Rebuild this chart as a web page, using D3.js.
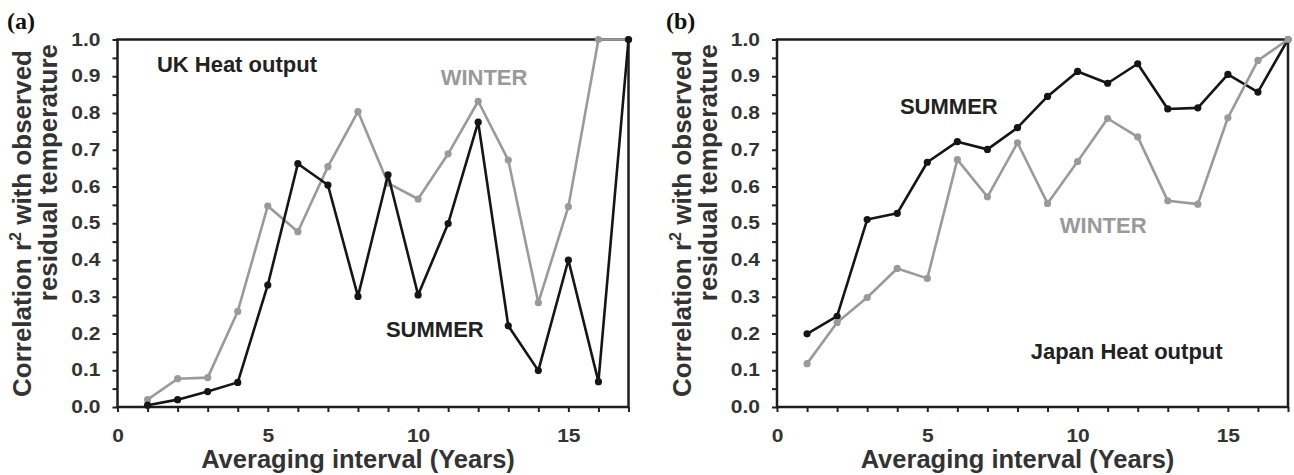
<!DOCTYPE html>
<html>
<head>
<meta charset="utf-8">
<script src="https://cdn.jsdelivr.net/npm/d3@7"></script>
<style>
  html, body { margin: 0; padding: 0; background: #fff; }
  svg { display: block; }
  text { font-family: "Liberation Sans", Arial, Helvetica, sans-serif; }
</style>
</head>
<body>
<svg id="chart" width="1294" height="475"></svg>
<script>
// ---- data ----
const intervals = [1,2,3,4,5,6,7,8,9,10,11,12,13,14,15,16,17];

const ukWinter = [0.02,0.077,0.08,0.26,0.547,0.477,0.654,0.804,0.609,0.566,0.689,0.832,0.672,0.284,0.545,1.0,1.0];
const ukSummer = [0.005,0.02,0.042,0.067,0.332,0.662,0.604,0.301,0.632,0.305,0.499,0.775,0.221,0.099,0.4,0.069,1.0];

const jpSummer = [0.199,0.247,0.51,0.527,0.666,0.722,0.701,0.76,0.845,0.913,0.881,0.934,0.811,0.814,0.905,0.857,1.0];
const jpWinter = [0.118,0.23,0.298,0.377,0.35,0.673,0.572,0.719,0.554,0.668,0.785,0.735,0.561,0.552,0.787,0.943,1.0];

const xTickValues = d3.range(0, 18);
const xTickLabels = [0, 5, 10, 15];
const yTickValues = d3.range(0, 21).map(i => i / 20);
const yTickLabels = ["0.0","0.1","0.2","0.3","0.4","0.5","0.6","0.7","0.8","0.9","1.0"];

const panelLabels = ["(a)", "(b)"];
const yTitleLines = ["Correlation r", "2", " with observed", "residual temperature"];
const xTitle = "Averaging interval (Years)";

const panels = [
  {
    label: "(a)", x0: 117.5, x1: 628.5, labelX: 7,
    series: [
      { name: "WINTER", values: ukWinter, color: "#9a9a9a" },
      { name: "SUMMER", values: ukSummer, color: "#151515" }
    ],
    notes: [
      { text: "UK Heat output", x: 1.31, y: 0.912, color: "#222" },
      { text: "WINTER", x: 10.75, y: 0.876, color: "#999" },
      { text: "SUMMER", x: 8.93, y: 0.19, color: "#222" }
    ]
  },
  {
    label: "(b)", x0: 777, x1: 1288, labelX: 666,
    series: [
      { name: "SUMMER", values: jpSummer, color: "#151515" },
      { name: "WINTER", values: jpWinter, color: "#9a9a9a" }
    ],
    notes: [
      { text: "SUMMER", x: 4.09, y: 0.797, color: "#222" },
      { text: "WINTER", x: 9.41, y: 0.474, color: "#999" },
      { text: "Japan Heat output", x: 8.44, y: 0.13, color: "#222" }
    ]
  }
];

const svg = d3.select("#chart");
const yTop = 39.5, yBottom = 407;

panels.forEach(p => {
  const x = d3.scaleLinear().domain([0, 17]).range([p.x0, p.x1]);
  const y = d3.scaleLinear().domain([0, 1]).range([yBottom, yTop]);
  const g = svg.append("g");

  // y axis
  const yAxis = d3.axisLeft(y)
    .tickValues(yTickValues)
    .tickSize(5)
    .tickPadding(12)
    .tickFormat(d => {
      const i = Math.round(d * 10);
      return Math.abs(d * 10 - i) < 1e-6 ? yTickLabels[i] : "";
    });
  const ya = g.append("g").attr("transform", `translate(${p.x0},0)`).call(yAxis);
  ya.select(".domain").remove();
  ya.selectAll(".tick line").attr("stroke", "#222").attr("stroke-width", 2);
  ya.selectAll(".tick text")
    .attr("fill", "#333")
    .style("font-size", "17.5px").style("font-weight", "bold")
    .style("transform-box", "fill-box").style("transform-origin", "right center")
    .style("transform", "scaleX(1.2)");

  // x axis
  const xAxis = d3.axisBottom(x)
    .tickValues(xTickValues)
    .tickSize(5)
    .tickPadding(18)
    .tickFormat(d => xTickLabels.includes(d) ? String(d) : "");
  const xa = g.append("g").attr("transform", `translate(0,${yBottom})`).call(xAxis);
  xa.select(".domain").remove();
  xa.selectAll(".tick line").attr("stroke", "#222").attr("stroke-width", 2);
  xa.selectAll(".tick text")
    .attr("fill", "#333")
    .style("font-size", "17.5px").style("font-weight", "bold")
    .style("transform-box", "fill-box").style("transform-origin", "center")
    .style("transform", "scaleX(1.2)");

  // frame
  g.append("rect")
    .attr("x", p.x0).attr("y", yTop)
    .attr("width", p.x1 - p.x0).attr("height", yBottom - yTop)
    .attr("fill", "none").attr("stroke", "#1e1e1e").attr("stroke-width", 2.5);

  // series
  const line = d3.line().x((d, i) => x(intervals[i])).y(d => y(d));
  p.series.forEach(s => {
    g.append("path").datum(s.values)
      .attr("d", line).attr("fill", "none")
      .attr("stroke", s.color).attr("stroke-width", 2.6)
      .attr("stroke-linejoin", "round");
    g.selectAll(null).data(s.values).enter().append("circle")
      .attr("cx", (d, i) => x(intervals[i])).attr("cy", d => y(d))
      .attr("r", 3.6).attr("fill", s.color);
  });

  // annotations
  p.notes.forEach(n => {
    g.append("text").attr("x", x(n.x)).attr("y", y(n.y))
      .attr("fill", n.color)
      .style("font-size", "22px").style("font-weight", "bold")
      .text(n.text);
  });

  // x title
  g.append("text").attr("x", x(8)).attr("y", 468)
    .attr("text-anchor", "middle").attr("fill", "#333")
    .style("font-size", "25.5px").style("font-weight", "bold")
    .text(xTitle);

  // y title (two lines)
  const t1 = g.append("text")
    .attr("transform", `translate(${p.x0 - 86.5},50) rotate(-90)`)
    .attr("text-anchor", "end").attr("fill", "#333")
    .style("font-size", "26px").style("font-weight", "bold");
  t1.append("tspan").text(yTitleLines[0]);
  t1.append("tspan").attr("dy", -10).style("font-size", "16px").text(yTitleLines[1]);
  t1.append("tspan").attr("dy", 10).text(yTitleLines[2]);

  g.append("text")
    .attr("transform", `translate(${p.x0 - 60.5},44) rotate(-90)`)
    .attr("text-anchor", "end").attr("fill", "#333")
    .style("font-size", "26px").style("font-weight", "bold")
    .text(yTitleLines[3]);

  // panel label
  svg.append("text").attr("x", p.labelX).attr("y", 29)
    .attr("fill", "#111")
    .style("font-family", "'Liberation Serif', 'Times New Roman', serif")
    .style("font-size", "24px").style("font-weight", "bold")
    .text(p.label);
});
</script>
</body>
</html>
